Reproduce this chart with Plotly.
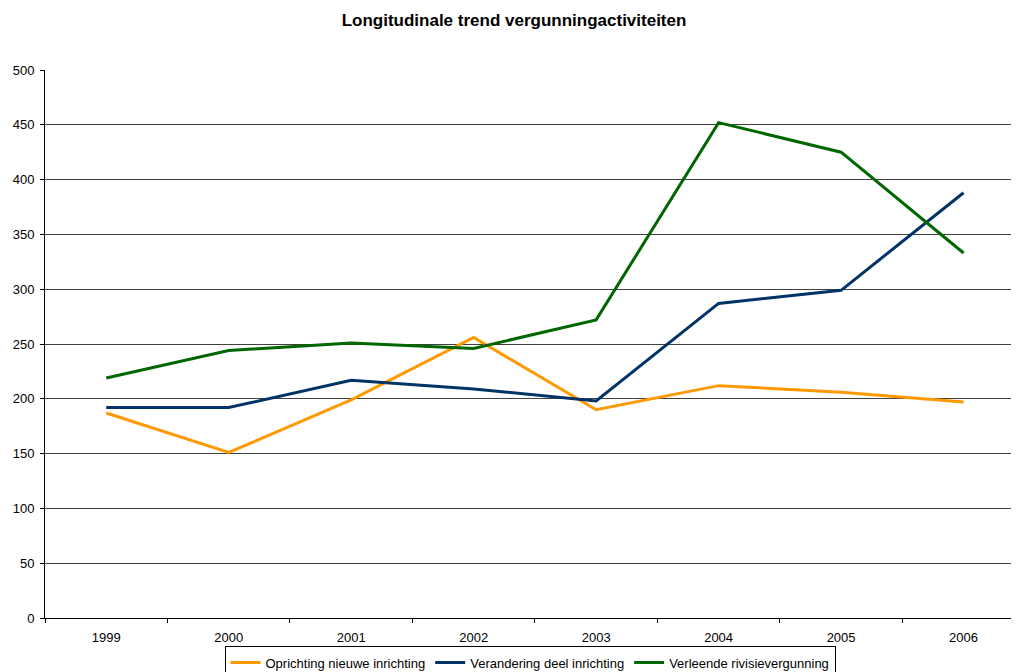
import plotly.graph_objects as go

years = ["1999", "2000", "2001", "2002", "2003", "2004", "2005", "2006"]
oprichting = [187, 151, 199, 256, 190, 212, 206, 197]
verandering = [192, 192, 217, 209, 198, 287, 299, 388]
verleende = [219, 244, 251, 246, 272, 452, 425, 333]

series = [
    ("Oprichting nieuwe inrichting", oprichting, "#FF9900"),
    ("Verandering deel inrichting", verandering, "#003366"),
    ("Verleende rivisievergunning", verleende, "#006600"),
]

fig = go.Figure()
for name, vals, col in series:
    fig.add_trace(go.Scatter(x=years, y=vals, name=name, mode="lines",
                             line=dict(color=col, width=3)))

font = "Arial"
W, H = 1011, 664
fig.update_layout(
    width=W, height=H,
    margin=dict(l=37, r=4, t=62, b=54, autoexpand=False),
    paper_bgcolor="white", plot_bgcolor="white",
    title=dict(text="<b>Longitudinale trend vergunningactiviteiten</b>",
               xref="container", x=0.5005, xanchor="center",
               yref="container", y=1 - 12 / H, yanchor="middle",
               font=dict(family=font, size=17, color="black")),
    font=dict(family=font, size=13, color="black"),
    showlegend=True,
    legend=dict(orientation="h", x=0.5, xanchor="center", y=-0.052, yanchor="top",
                bordercolor="black", borderwidth=1, bgcolor="white",
                font=dict(family=font, size=13, color="black"),
                itemwidth=30, tracegroupgap=0),
)
fig.update_xaxes(type="category", range=[-0.5, 7.42], tickson="boundaries",
                 ticks="outside", ticklen=4, tickcolor="black",
                 ticklabelstandoff=7,
                 showline=True, linecolor="black", linewidth=1,
                 showgrid=False, zeroline=False,
                 tickfont=dict(family=font, size=13, color="black"))
fig.update_yaxes(range=[0, 500], dtick=50, ticks="outside", ticklen=4, tickcolor="black",
                 ticklabelstandoff=3,
                 showline=True, linecolor="black", linewidth=1,
                 showgrid=True, gridcolor="#404040", gridwidth=1, zeroline=False,
                 tickfont=dict(family=font, size=13, color="black"))

fig.write_html("out.html")
